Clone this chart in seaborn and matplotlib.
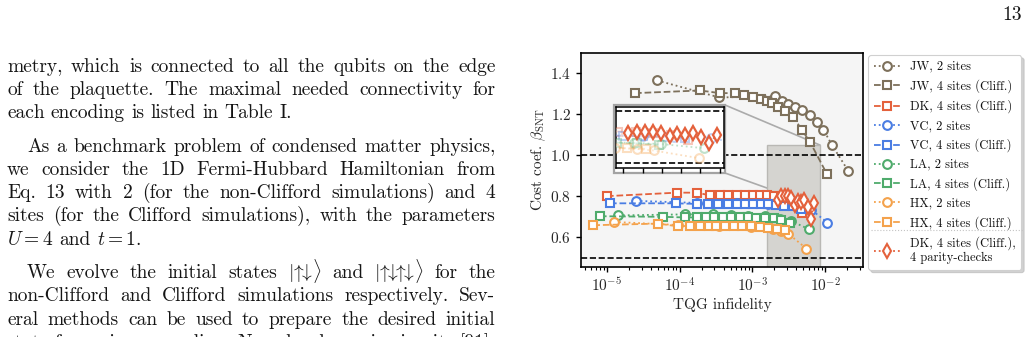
import numpy as np
import pandas as pd
import seaborn as sns
import matplotlib
matplotlib.use("Agg")
import matplotlib.pyplot as plt
from matplotlib.patches import Rectangle, ConnectionPatch
from matplotlib.lines import Line2D

# ---------------- data ----------------
JW2_x = [4.9e-5, 3.5e-4, 2.05e-3, 2.53e-3, 3.12e-3, 3.86e-3, 4.76e-3, 6.19e-3, 7.65e-3, 9.45e-3, 1.23e-2, 2.08e-2]
JW2_y = [1.366, 1.283, 1.288, 1.265, 1.252, 1.236, 1.220, 1.195, 1.162, 1.125, 1.052, 0.923]

JW4_x = [2.43e-5, 1.90e-4, 3.58e-4, 5.76e-4, 7.66e-4, 1.02e-3, 1.30e-3, 1.57e-3, 1.84e-3, 2.27e-3, 2.81e-3, 3.65e-3, 4.76e-3, 6.19e-3, 1.05e-2]
JW4_y = [1.304, 1.317, 1.304, 1.304, 1.293, 1.284, 1.276, 1.268, 1.255, 1.236, 1.216, 1.187, 1.125, 1.065, 0.910]

DK4_x = [1.0e-5, 9.1e-5, 1.71e-4, 2.61e-4, 3.58e-4, 4.66e-4, 6.07e-4, 7.91e-4, 1.03e-3, 1.27e-3, 1.59e-3, 1.98e-3, 2.47e-3, 3.08e-3, 3.85e-3, 4.81e-3]
DK4_y = [0.801, 0.818, 0.818, 0.805, 0.809, 0.809, 0.806, 0.806, 0.806, 0.805, 0.805, 0.800, 0.795, 0.785, 0.770, 0.720]

VC2_x = [2.5e-5, 1.71e-4, 6.1e-4, 1.65e-3, 2.7e-3, 4.0e-3, 6.4e-3, 1.07e-2]
VC2_y = [0.778, 0.768, 0.768, 0.765, 0.760, 0.752, 0.735, 0.672]

VC4_x = [1.1e-5, 8.8e-5, 1.71e-4, 2.47e-4, 3.4e-4, 4.6e-4, 6.1e-4, 7.9e-4, 1.03e-3, 1.3e-3, 1.65e-3, 2.1e-3, 2.7e-3, 3.6e-3, 4.6e-3]
VC4_y = [0.766, 0.766, 0.763, 0.763, 0.763, 0.765, 0.765, 0.765, 0.765, 0.764, 0.762, 0.760, 0.755, 0.752, 0.740]

LA2_x = [1.43e-5, 1.2e-4, 2.9e-4, 5.1e-4, 8.7e-4, 1.48e-3, 2.4e-3, 3.4e-3, 5.9e-3]
LA2_y = [0.707, 0.712, 0.712, 0.710, 0.706, 0.702, 0.690, 0.680, 0.640]

LA4_x = [8.0e-6, 5.9e-5, 1.18e-4, 1.71e-4, 2.3e-4, 3.0e-4, 3.9e-4, 5.1e-4, 6.7e-4, 8.7e-4, 1.13e-3, 1.48e-3, 1.95e-3, 2.5e-3, 3.3e-3]
LA4_y = [0.703, 0.700, 0.697, 0.697, 0.697, 0.697, 0.697, 0.697, 0.697, 0.697, 0.695, 0.695, 0.693, 0.685, 0.672]

HX2_x = [1.26e-5, 9.6e-5, 3.5e-4, 9.5e-4, 1.9e-3, 2.5e-3, 3.1e-3, 5.5e-3]
HX2_y = [0.675, 0.660, 0.657, 0.652, 0.642, 0.632, 0.618, 0.545]

HX4_x = [6.5e-6, 5.1e-5, 9.6e-5, 1.38e-4, 1.9e-4, 2.5e-4, 3.2e-4, 4.2e-4, 5.5e-4, 7.2e-4, 9.5e-4, 1.25e-3, 1.65e-3, 2.2e-3, 2.8e-3]
HX4_y = [0.659, 0.667, 0.653, 0.657, 0.657, 0.657, 0.657, 0.656, 0.655, 0.655, 0.653, 0.650, 0.646, 0.640, 0.634]

DKP_x = [2.25e-3, 2.50e-3, 2.78e-3, 3.08e-3, 3.42e-3, 3.80e-3, 4.20e-3, 4.65e-3, 5.15e-3, 5.70e-3, 6.30e-3, 6.95e-3]
DKP_y = [0.783, 0.800, 0.800, 0.800, 0.790, 0.757, 0.775, 0.770, 0.783, 0.750, 0.690, 0.766]

LABELS = ["JW, 2 sites", "JW, 4 sites (Cliff.)", "DK, 4 sites (Cliff.)", "VC, 2 sites",
          "VC, 4 sites (Cliff.)", "LA, 2 sites", "LA, 4 sites (Cliff.)", "HX, 2 sites",
          "HX, 4 sites (Cliff.)", "DK, 4 sites (Cliff.),\n4 parity-checks"]

X_TICKS = [1e-5, 1e-4, 1e-3, 1e-2]
Y_TICKS = [0.6, 0.8, 1.0, 1.2, 1.4]
REF_LINES = [1.0, 0.5]
ZOOM_X = (1.6e-3, 8.5e-3)
ZOOM_TOP = 1.05

PARAGRAPHS = [
    (False, ["metry, which is connected to all the qubits on the edge",
             "of the plaquette.  The maximal needed connectivity for",
             "each encoding is listed in Table I."]),
    (True, ["As a benchmark problem of condensed matter physics,",
            "we consider the 1D Fermi-Hubbard Hamiltonian from",
            "Eq. 13 with 2 (for the non-Clifford simulations) and 4",
            "sites (for the Clifford simulations), with the parameters",
            r"$U=4$ and $t=1$."]),
    (True, [r"We evolve the initial states $|\!{\uparrow}\!\!\!{\downarrow}\!\rangle$ and "
            r"$|\!{\uparrow}\!\!\!{\downarrow}\!\!\!{\uparrow}\!\!\!{\downarrow}\!\rangle$ for the",
            "non-Clifford and Clifford simulations respectively. Sev-",
            "eral methods can be used to prepare the desired initial",
            "state for a given encoding. Namely, dynamic circuits [91],"]),
]
PAGE_NUMBER = "13"

# ---------------- style ----------------
sns.set_theme(style="ticks")
plt.rcParams.update({
    "font.family": ["cmr10", "DejaVu Serif"],
    "mathtext.fontset": "cm",
    "axes.formatter.use_mathtext": True,
    "axes.unicode_minus": True,
    "text.color": "#111111",
})

C_JW = "#7d705b"
C_DK = "#e4613c"
C_VC = "#4a7de3"
C_LA = "#4fab6c"
C_HX = "#f4a24c"

W, H = 1035, 337
fig = plt.figure(figsize=(W / 100, H / 100), dpi=100)
fig.patch.set_facecolor("white")

# ---------------- body text ----------------
FS_BODY = 14.0
renderer = fig.canvas.get_renderer()


def place_line(text, x0, x1, base, justify):
    words = text.split()
    objs = [fig.text(0, 0, w, fontsize=FS_BODY, color="#151515", va="baseline", ha="left") for w in words]
    widths = [o.get_window_extent(renderer).width for o in objs]
    if justify and len(words) > 1:
        gap = (x1 - x0 - sum(widths)) / (len(words) - 1)
    else:
        gap = 6.3
    x = x0
    for o, w in zip(objs, widths):
        o.set_position((x / W, 1 - base / H))
        x += w + gap


base = 71.7
for pi, (indent, lines) in enumerate(PARAGRAPHS):
    if pi > 0:
        base += 10.2
    for li, ln in enumerate(lines):
        x0 = 7 + (20 if (indent and li == 0) else 0)
        last = (li == len(lines) - 1) and pi != len(PARAGRAPHS) - 1
        place_line(ln, x0, 495.5, base, not last)
        base += 23.25

fig.text(1022 / W, 1 - 20 / H, PAGE_NUMBER, fontsize=FS_BODY, ha="right", va="baseline", color="#151515")

# ---------------- main axes ----------------
ax = fig.add_axes([581 / W, 1 - 267 / H, 282 / W, 214 / H])
ax.set_facecolor("#f5f5f5")
ax.set_xscale("log")


def draw(a, x, y, color, marker, ls, ms, alpha=1.0, z=3, mew=1.5):
    sns.lineplot(x=x, y=y, ax=a, color=color, marker=marker, linestyle=ls, lw=1.3,
                 markersize=ms, markerfacecolor="white", markeredgecolor=color,
                 markeredgewidth=mew, alpha=alpha, estimator=None, sort=False,
                 legend=False, zorder=z)
    return a.lines[-1]


series = [
    (JW2_x, JW2_y, C_JW, "o", ":", 6.3),
    (JW4_x, JW4_y, C_JW, "s", "--", 6.3),
    (DK4_x, DK4_y, C_DK, "s", "--", 6.3),
    (VC2_x, VC2_y, C_VC, "o", ":", 6.3),
    (VC4_x, VC4_y, C_VC, "s", "--", 6.3),
    (LA2_x, LA2_y, C_LA, "o", ":", 6.3),
    (LA4_x, LA4_y, C_LA, "s", "--", 6.3),
    (HX2_x, HX2_y, C_HX, "o", ":", 6.3),
    (HX4_x, HX4_y, C_HX, "s", "--", 6.3),
]
handles = []
for (x, y, c, m, ls, ms) in series:
    handles.append(draw(ax, x, y, c, m, ls, ms))
handles.append(draw(ax, DKP_x, DKP_y, C_DK, "d", ":", 7.0, z=4))

for yv in REF_LINES:
    ax.axhline(yv, color="black", ls="--", lw=1.2, zorder=2)

ax.set_xlim(4.4e-6, 3.3e-2)
ax.set_ylim(0.455, 1.5)
ax.set_xticks(X_TICKS)
ax.set_yticks(Y_TICKS)
ax.tick_params(axis="both", which="major", labelsize=11, length=3.5, width=1.0, direction="out", color="black")
ax.tick_params(axis="x", which="minor", length=2, width=0.8, color="black")
for s in ax.spines.values():
    s.set_color("black")
    s.set_linewidth(1.2)
ax.set_xlabel("TQG infidelity", fontsize=11, labelpad=2)
ax.set_ylabel(r"Cost coef. $\beta_{\mathrm{SNT}}$", fontsize=11, labelpad=1.5)

# zoom rectangle
ax.add_patch(Rectangle((ZOOM_X[0], 0.2), ZOOM_X[1] - ZOOM_X[0], ZOOM_TOP - 0.2,
                       facecolor="#d5d4d0", edgecolor="#b9b8b4", lw=1.0, zorder=1.5))

# inset frame (figure pixels)
frame = Rectangle((614 / W, 1 - 173 / H), 111 / W, 68 / H, transform=fig.transFigure,
                  facecolor="white", edgecolor="#a3a3a3", lw=1.6, zorder=6)
ax.add_patch(frame)

# connectors
for (fx, fy), (dx, dy) in [((725, 105), (ZOOM_X[1], ZOOM_TOP)), ((725, 173), (ZOOM_X[0], 0.84))]:
    cp = ConnectionPatch(xyA=(fx, H - fy), coordsA="figure pixels", xyB=(dx, dy), coordsB="data",
                         axesB=ax, color="#ababab", lw=1.2, zorder=1.2)
    ax.add_artist(cp)

# legend
leg = ax.legend(handles, LABELS, loc="upper left", bbox_to_anchor=(1.018, 0.99), fontsize=9,
                frameon=True, fancybox=True, shadow={"color": "#b5b5b5", "alpha": 0.6},
                framealpha=1, edgecolor="#d0d0d0", handlelength=2.2, handletextpad=0.7,
                labelspacing=0.52, borderpad=0.45, borderaxespad=0.0)
leg.get_frame().set_linewidth(0.8)
fig.add_artist(Line2D([871 / W, 1023 / W], [1 - 229.5 / H, 1 - 229.5 / H], color="#c4c4c4",
                      lw=0.8, ls=":", transform=fig.transFigure))

# ---------------- inset ----------------
axi = fig.add_axes([616 / W, 1 - 168 / H, 108 / W, 61 / H])
axi.set_zorder(7)
axi.set_facecolor("white")
axi.set_xscale("log")
for (x, y, c, m, ls, ms) in series[2:]:
    draw(axi, x, y, c, m, ls, ms, alpha=0.35)
draw(axi, DKP_x, DKP_y, C_DK, "d", ":", 7.5, z=4, mew=1.6)
for yv in REF_LINES:
    axi.axhline(yv, color="black", ls="--", lw=1.2, zorder=2)
axi.set_xlim(1.92e-3, 7.6e-3)
axi.set_ylim(0.45, 1.035)
axi.set_xticks([2.1e-3, 2.7e-3, 3.45e-3, 4.4e-3, 5.6e-3, 7.2e-3])
axi.xaxis.set_minor_locator(matplotlib.ticker.NullLocator())
axi.set_yticks([])
axi.tick_params(axis="x", which="major", length=3.5, width=1.0, direction="out",
                labelbottom=False, color="black")
for s in axi.spines.values():
    s.set_color("black")
    s.set_linewidth(1.1)

fig.savefig("out.png", dpi=100)
